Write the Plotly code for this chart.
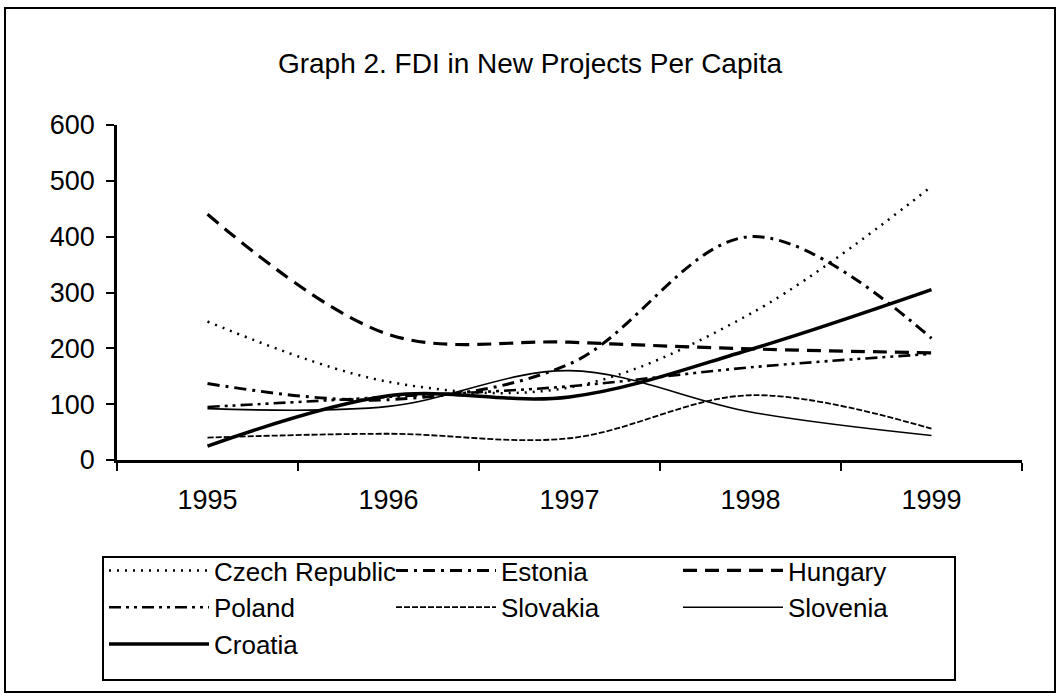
import plotly.graph_objects as go

years = ["1995", "1996", "1997", "1998", "1999"]

czech = [248, 140, 130, 262, 490]
estonia = [137, 108, 172, 400, 218]
hungary = [440, 225, 211, 199, 192]
poland = [95, 113, 132, 166, 190]
slovakia = [40, 47, 39, 116, 56]
slovenia = [92, 96, 160, 86, 44]
croatia = [25, 115, 113, 198, 305]

series = [
    ("Czech Republic", czech, dict(width=2.5, dash="2px,6px")),
    ("Estonia", estonia, dict(width=3, dash="12px,6px,3px,6px")),
    ("Hungary", hungary, dict(width=3.2, dash="14px,8px")),
    ("Poland", poland, dict(width=2.6, dash="12px,5px,3px,5px,3px,5px")),
    ("Slovakia", slovakia, dict(width=1.8, dash="6px,2px")),
    ("Slovenia", slovenia, dict(width=1.6)),
    ("Croatia", croatia, dict(width=3.5)),
]

fig = go.Figure()
for name, vals, ln in series:
    fig.add_trace(go.Scatter(
        x=years, y=vals, name=name, mode="lines",
        line=dict(color="black", shape="spline", smoothing=1.0, **ln),
    ))

W, H = 1060, 699
L, R, T, B = 117, 38, 125, 239
pw, ph = W - L - R, H - T - B

def px_x(p):
    return (p - L) / pw

def px_y(p):
    return (H - B - p) / ph

fig.update_layout(
    width=W, height=H,
    margin=dict(l=L, r=R, t=T, b=B),
    paper_bgcolor="white", plot_bgcolor="white",
    font=dict(family="Liberation Sans, Arial, sans-serif", color="black", size=26),
    title=dict(text="Graph 2. FDI in New Projects Per Capita",
               x=0.5, xanchor="center", y=1 - 63 / H, yanchor="middle",
               font=dict(size=28)),
    showlegend=True,
    legend=dict(
        orientation="h", x=px_x(104), xanchor="left", y=px_y(547), yanchor="top",
        borderwidth=0, bgcolor="rgba(0,0,0,0)",
        entrywidth=172, entrywidthmode="pixels",
        font=dict(size=26), tracegroupgap=0, itemwidth=100,
    ),
    xaxis=dict(
        type="category", range=[-0.5, 4.5], showgrid=False, zeroline=False,
        showline=True, linecolor="black", linewidth=2.5,
        ticks="outside", tickson="boundaries", ticklen=8, tickwidth=2, tickcolor="black",
        tickfont=dict(size=27), ticklabelstandoff=14,
    ),
    yaxis=dict(
        range=[0, 600], dtick=100, showgrid=False, zeroline=False,
        showline=True, linecolor="black", linewidth=2.5,
        ticks="outside", ticklen=8, tickwidth=2, tickcolor="black",
        tickfont=dict(size=27), ticklabelstandoff=6,
    ),
    shapes=[
        dict(type="rect", xref="paper", yref="paper",
             x0=px_x(5), x1=px_x(1055), y0=px_y(692), y1=px_y(8),
             line=dict(color="black", width=2)),
        dict(type="rect", xref="paper", yref="paper",
             x0=px_x(103), x1=px_x(955), y0=px_y(680), y1=px_y(557),
             line=dict(color="black", width=2)),
    ],
)

fig.write_html("out.html", config={"displayModeBar": False},
               post_script="document.body.style.margin='0px';")
